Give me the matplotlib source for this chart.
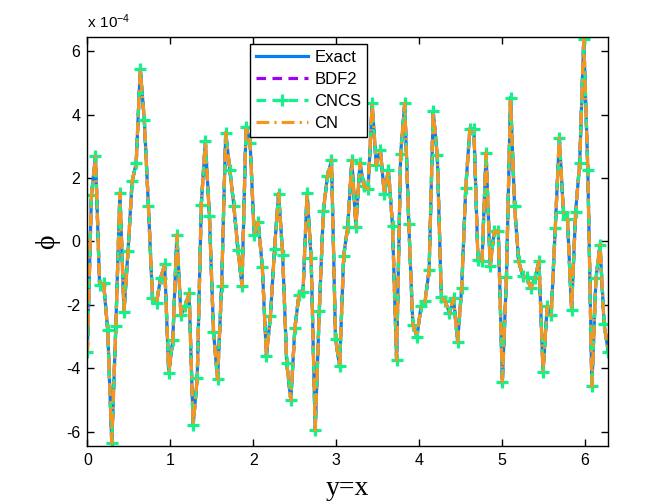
import matplotlib
matplotlib.use('Agg')

import numpy as np
import matplotlib.pyplot as plt

plt.rcParams['font.family'] = ['Liberation Sans', 'DejaVu Sans']
plt.rcParams['axes.unicode_minus'] = False

# phi along y=x, in units of 1e-4, 129 grid points on [0, 2pi]
phi_e4 = [
    -3.49, 1.45, 2.68, -1.37, -1.32, -2.79, -6.35, -2.68, 1.53, -2.21,
    -0.29, 1.89, 2.47, 5.44, 3.82, 1.13, -1.79, -1.93, -1.16, -0.72,
    -4.14, -3.11, 0.21, -2.32, -2.05, -1.63, -5.79, -4.32, 1.16, 3.16,
    0.79, -2.84, -4.35, -1.40, 3.42, 2.26, 1.13, -0.26, -1.40, 3.61,
    3.11, 0.21, 0.60, -0.81, -3.61, -2.35, -0.23, 1.51, -0.42, -3.84,
    -5.00, -2.74, -1.68, -1.61, 1.53, -0.53, -5.95, -2.19, 0.95, 2.05,
    2.56, -3.08, -3.93, -0.45, 0.47, 2.56, 0.47, 2.47, 1.74, 1.65,
    4.35, 2.42, 2.89, 1.49, 2.26, 0.49, -3.74, 2.77, 4.35, 0.56,
    -2.63, -3.00, -2.05, -1.89, -0.89, 4.10, 2.71, -1.76, -1.89, -2.26,
    -1.79, -3.16, -1.47, 1.68, 3.55, 3.53, -0.58, -0.63, 2.79, -0.79,
    0.32, 0.32, -4.42, -1.13, 4.53, 1.11, -0.63, -1.08, -1.13, -1.47,
    -1.16, -0.63, -4.11, -2.05, -2.32, 0.42, 3.26, 0.92, 0.71, -2.16,
    0.92, 2.47, 6.37, 2.26, -4.56, -1.16, -0.11, -2.60, -3.47,
]
x = np.linspace(0, 2 * np.pi, len(phi_e4))

labels = ['Exact', 'BDF2', 'CNCS', 'CN']
xticks = [0, 1, 2, 3, 4, 5, 6]
yticks = [-6, -4, -2, 0, 2, 4, 6]

fig = plt.figure(figsize=(6.72, 5.04), dpi=100, facecolor='white')
ax = fig.add_axes([0.13, 0.115, 0.775, 0.812])

lw = 2.3
ax.plot(x, phi_e4, color='#0a7cf5', lw=lw, ls='-', label=labels[0])
ax.plot(x, phi_e4, color='#a000f5', lw=lw, ls=(0, (3, 2)), label=labels[1])
ax.plot(x, phi_e4, color='#14f08c', lw=lw, ls=(0, (3, 2)), marker='+',
        ms=8.5, mew=2.3, label=labels[2])
ax.plot(x, phi_e4, color='#f7961e', lw=lw, ls=(0, (4, 1.6, 0.7, 1.6)),
        label=labels[3])

ax.set_xlim(0, 2 * np.pi)
ax.set_ylim(-6.45, 6.45)
ax.set_xticks(xticks)
ax.set_yticks(yticks)
ax.set_xticklabels([str(t) for t in xticks])
ax.set_yticklabels([str(t) for t in yticks])
ax.tick_params(direction='in', length=5, width=1, top=True, right=True,
               labelsize=11.5, pad=5)
for s in ax.spines.values():
    s.set_linewidth(1)

ax.set_xlabel('y=x', family='Liberation Serif', fontsize=20, labelpad=6)
ax.set_ylabel('\u03d5', family='Liberation Serif', fontsize=20, labelpad=4)

ax.text(0.0, 1.015, '$\\mathregular{x\\ 10^{-4}}$', transform=ax.transAxes,
        fontsize=11, ha='left', va='bottom')

leg = ax.legend(loc='upper left', bbox_to_anchor=(0.3125, 0.982),
                fontsize=12, handlelength=3.1, handletextpad=0.4,
                labelspacing=0.42, borderpad=0.35, fancybox=False,
                framealpha=1, edgecolor='black', borderaxespad=0)
leg.get_frame().set_linewidth(1)

plt.savefig('out.png', dpi=100, facecolor='white')
